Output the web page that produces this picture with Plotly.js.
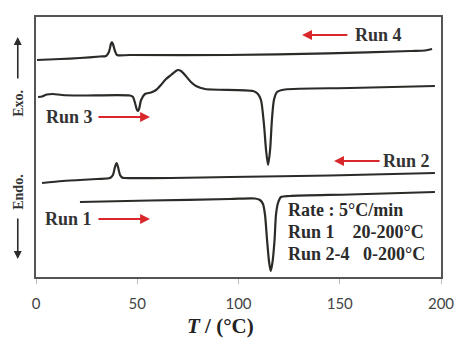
<!DOCTYPE html>
<html><head><meta charset="utf-8">
<script src="https://cdn.plot.ly/plotly-3.0.1.min.js"></script>
<style>html,body{margin:0;padding:0;background:#fff;}#c{width:457px;height:340px;}</style>
</head><body><div id="c"></div>
<script>
// Temperature (°C) and heat-flow signal (arbitrary units, exo up)
const run4T = [0.5, 12, 21.7, 31.6, 34.6, 36.0, 37.0, 37.5, 38.0, 39.0, 40.0, 46.4, 94.8, 144.2, 185.2, 192.1, 195.6];
const run4Y = [217, 218, 219, 220.5, 221, 225, 233, 235, 233, 226, 222, 222, 222, 223.7, 226, 226.5, 228];

const run3T = [1.0, 3.0, 5.4, 8.4, 12.8, 21.7, 46.4, 47.9, 48.9, 49.9, 50.4, 50.9, 51.9, 53.8, 56.8, 59.3, 61.7, 64.2, 66.7, 69.1, 70.1, 71.6, 74.0, 76.5, 79.0, 83.5, 107.2, 109.6, 111.1, 112.6, 113.6, 114.6, 115.6, 116.5, 117.5, 119.0, 123.0, 155.1, 197.0];
const run3Y = [180, 180.5, 182.5, 183, 182, 181.5, 181.5, 180, 174, 167, 166, 168, 177, 183, 184.5, 187, 192, 198, 202, 206, 207, 206, 201, 195, 191, 188, 186, 183, 177, 152, 127, 112, 127, 157, 177, 185, 187.5, 189, 191];

const run2T = [3.0, 13.3, 30.1, 36.5, 38.0, 39.0, 39.8, 40.5, 41.5, 42.5, 43.9, 66.7, 95.8, 145.2, 197.0];
const run2Y = [94, 96, 98, 99, 102, 110, 114, 110, 102, 99.5, 99, 99, 100, 101.5, 104];

const run1T = [21.7, 56.3, 95.8, 108.1, 110.6, 112.1, 113.1, 114.1, 115.1, 115.9, 116.8, 117.8, 118.5, 119.5, 121.0, 125.4, 155.1, 197.0];
const run1Y = [75, 76.5, 78, 78.5, 77, 73, 62, 37, 15, 6, 15, 37, 62, 74, 80, 81, 82.5, 85];

const xTicks = [0, 50, 100, 150, 200];
const runLabels = ["Run 1", "Run 2", "Run 3", "Run 4"];
const infoLines = ["Rate : 5°C/min", "Run 1&nbsp;&nbsp;&nbsp;&nbsp;20-200°C", "Run 2-4&nbsp;&nbsp;&nbsp;0-200°C"];

const lineStyle = {color: '#2b2b28', width: 2.2, shape: 'spline', smoothing: 0.7};
const mk = (x, y) => ({x, y, type: 'scatter', mode: 'lines', line: lineStyle, hoverinfo: 'skip', showlegend: false, cliponaxis: false});
const data = [mk(run4T, run4Y), mk(run3T, run3Y), mk(run2T, run2Y), mk(run1T, run1Y)];

const serif = 'Liberation Serif, Times New Roman, serif';
const red = '#d8282b';
const ann = [];
function runLabel(txt, tx, ty, headX, tailX) {
  ann.push({xref: 'x', yref: 'y', x: tx, y: ty, text: '<b>' + txt + '</b>', showarrow: false,
    font: {family: serif, size: 18, color: '#333'}, xanchor: 'center', yanchor: 'middle'});
  ann.push({xref: 'x', yref: 'y', x: headX, y: ty, axref: 'x', ayref: 'y', ax: tailX, ay: ty, text: '',
    showarrow: true, arrowhead: 2, arrowsize: 1.1, arrowwidth: 1.8, arrowcolor: red});
}
runLabel(runLabels[3], 169.0, 242, 131.4, 154.5);
runLabel(runLabels[2], 16.3, 160, 56.3, 30.1);
runLabel(runLabels[1], 183.2, 116, 147.2, 170.4);
runLabel(runLabels[0], 16.0, 58, 56.3, 30.1);

infoLines.forEach((t, i) => {
  ann.push({xref: 'x', yref: 'y', x: 123.5, y: [67, 45, 23][i], text: '<b>' + t + '</b>', showarrow: false,
    font: {family: serif, size: 18, color: '#2b2b2b'}, xanchor: 'left', yanchor: 'middle'});
});

ann.push({xref: 'paper', yref: 'y', x: -0.045, y: 174, text: '<b>Exo.</b>', textangle: -90, showarrow: false,
  font: {family: serif, size: 14, color: '#333'}, xanchor: 'center', yanchor: 'middle'});
ann.push({xref: 'paper', yref: 'y', x: -0.045, y: 240, axref: 'pixel', ayref: 'pixel', ax: 0, ay: 43, text: '',
  showarrow: true, arrowhead: 2, arrowsize: 1, arrowwidth: 1.6, arrowcolor: '#2b2b2b'});
ann.push({xref: 'paper', yref: 'y', x: -0.045, y: 85, text: '<b>Endo.</b>', textangle: -90, showarrow: false,
  font: {family: serif, size: 14, color: '#333'}, xanchor: 'center', yanchor: 'middle'});
ann.push({xref: 'paper', yref: 'y', x: -0.045, y: 18, axref: 'pixel', ayref: 'pixel', ax: 0, ay: -42, text: '',
  showarrow: true, arrowhead: 2, arrowsize: 1, arrowwidth: 1.6, arrowcolor: '#2b2b2b'});

ann.push({xref: 'x', yref: 'paper', x: 91, y: -0.188, text: '<b><i>T</i> / (°C)</b>', showarrow: false,
  font: {family: serif, size: 21, color: '#222'}, xanchor: 'center', yanchor: 'middle'});

const layout = {
  width: 457, height: 340,
  margin: {l: 36, r: 16, t: 17, b: 63},
  paper_bgcolor: '#fff', plot_bgcolor: '#fff',
  xaxis: {range: [0, 200], tickvals: xTicks, ticktext: xTicks.map(String), ticks: 'outside', ticklen: 5,
    tickcolor: '#bbb', tickwidth: 1, showgrid: false, zeroline: false, showline: true, mirror: true,
    linecolor: '#555', linewidth: 1.6, ticklabelstandoff: 7,
    tickfont: {family: 'Lato, Open Sans, sans-serif', size: 15, color: '#444'}},
  yaxis: {range: [0, 260], showticklabels: false, ticks: '', showgrid: false, zeroline: false,
    showline: true, mirror: true, linecolor: '#555', linewidth: 1.6},
  annotations: ann,
  showlegend: false
};
Plotly.newPlot('c', data, layout, {displayModeBar: false, staticPlot: true});
</script></body></html>
